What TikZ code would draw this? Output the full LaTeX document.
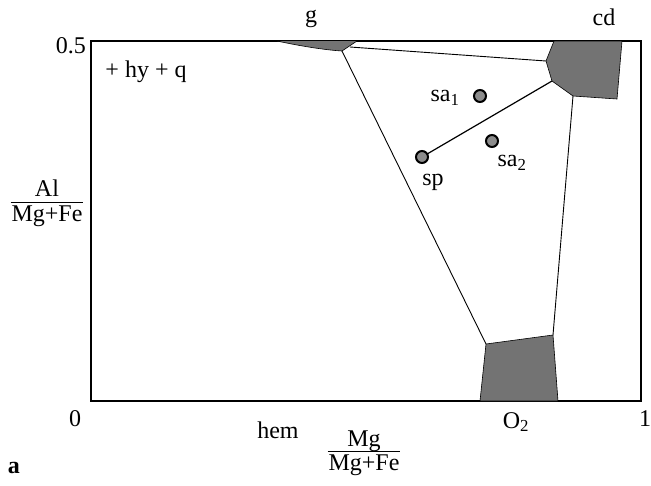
\documentclass[tikz,border=0pt]{standalone}
\usepackage{fontspec}
\setmainfont{Liberation Serif}
\begin{document}
\begin{tikzpicture}[x=1pt,y=-1pt,
  lbl/.style={font=\fontsize{24}{26}\selectfont, inner sep=0pt},
  phase/.style={fill=black!55, draw=black, line width=0.6pt},
  tie/.style={line width=0.9pt},
  dot/.style={circle, fill=black!45, draw=black, line width=2pt, minimum size=12pt, inner sep=0pt}]
\useasboundingbox (0,0) rectangle (651,485);
% frame
\draw[line width=1.8pt] (91,41) rectangle (641,401);
% corner coordinates
\coordinate (gL) at (277,41);
\coordinate (gB) at (342,51);
\coordinate (gR) at (357,41);
\coordinate (gE) at (350,47);
\coordinate (c1) at (554,41);
\coordinate (c2) at (622,41);
\coordinate (c3) at (617,99);
\coordinate (c4) at (573,96);
\coordinate (c5) at (552,81);
\coordinate (c6) at (546,61);
\coordinate (o1) at (486,344);
\coordinate (o2) at (553,335);
\coordinate (o3) at (558,401);
\coordinate (o4) at (480,401);
% phase fields
\fill[black!55] (gL) .. controls (300,46) and (325,50) .. (gB) -- (gR) -- cycle;
\draw[line width=0.6pt] (gL) .. controls (300,46) and (325,50) .. (gB) -- (gR);
\draw[phase] (c1) -- (c2) -- (c3) -- (c4) -- (c5) -- (c6) -- cycle;
\draw[phase] (o1) -- (o2) -- (o3) -- (o4) -- cycle;
% tie lines
\draw[tie] (gE) -- (c6);
\draw[tie] (gB) -- (o1);
\draw[tie] (c4) -- (o2);
% dots
\node[dot] (sa1) at (480,96) {};
\node[dot] (sa2) at (492,141) {};
\node[dot] (sp) at (422,157) {};
\draw[line width=1.2pt] (sp) -- (c5);
% labels
\node[lbl] (lg) at (311,19) {g};
\node[lbl] (lcd) at (604,17) {cd};
\node[lbl, anchor=east] (l05) at (86,46) {0.5};
\node[lbl] (lhq) at (146,72) {+ hy + q};
\node[lbl] (lsa1) at (445,98) {sa\textsubscript{1}};
\node[lbl] (lsa2) at (512,163) {sa\textsubscript{2}};
\node[lbl] (lsp) at (433,182) {sp};
\node[lbl] (lyax) at (47,204) {\renewcommand{\arraystretch}{0.85}\setlength{\tabcolsep}{1pt}\begin{tabular}{c}Al\\[-2pt]\hline\rule{0pt}{19pt}Mg+Fe\end{tabular}};
\node[lbl] (l0) at (75,419) {0};
\node[lbl] (l1) at (645,419) {1};
\node[lbl] (lhem) at (278,430) {hem};
\node[lbl] (lo2) at (516,422) {O\textsubscript{2}};
\node[lbl] (lxax) at (364,454) {\renewcommand{\arraystretch}{0.85}\setlength{\tabcolsep}{1pt}\begin{tabular}{c}Mg\\[-2pt]\hline\rule{0pt}{19pt}Mg+Fe\end{tabular}};
\node[lbl, font=\fontsize{24}{26}\selectfont\bfseries] (la) at (14,468) {a};
\end{tikzpicture}
\end{document}
